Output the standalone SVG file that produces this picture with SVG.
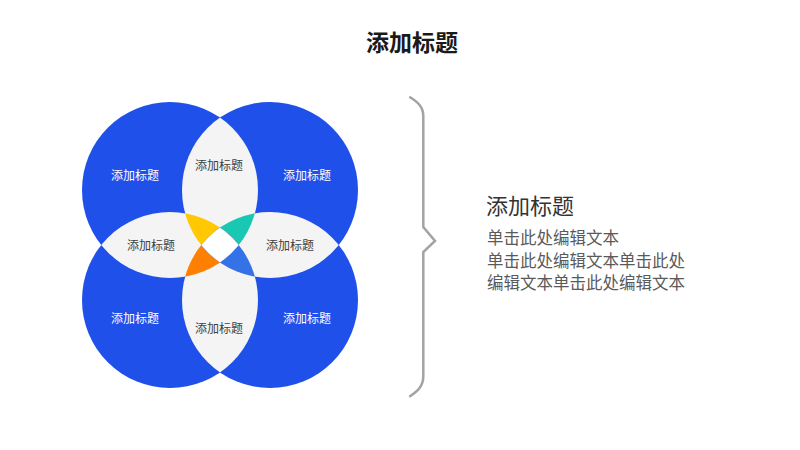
<svg xmlns="http://www.w3.org/2000/svg" width="800" height="450" viewBox="0 0 800 450">
<style>
.blue{fill:#1f50e9}
.grey{fill:#f4f4f4}
.t{font-family:"Noto Sans CJK SC","Noto Sans",sans-serif;text-anchor:middle;font-size:12px}
.tw{fill:#ffffff}
.td{fill:#404040}
.title{font-family:"Noto Sans CJK SC","Noto Sans",sans-serif;font-size:23px;font-weight:bold;fill:#1a1a1a;text-anchor:middle}
.h{font-family:"Noto Sans CJK SC","Noto Sans",sans-serif;font-size:22px;fill:#333333}
.b{font-family:"Noto Sans CJK SC","Noto Sans",sans-serif;font-size:16.5px;fill:#5a5a5a}
.brace{fill:none;stroke:#a3a3a3;stroke-width:2.5;stroke-linejoin:miter}
</style>
<defs>
<clipPath id="cTL"><circle cx="170" cy="190" r="88"/></clipPath>
<clipPath id="cTR"><circle cx="270" cy="190" r="88"/></clipPath>
<clipPath id="cBL"><circle cx="170" cy="300" r="88"/></clipPath>
<clipPath id="cBR"><circle cx="270" cy="300" r="88"/></clipPath>
</defs>
<rect width="800" height="450" fill="#ffffff"/>
<text class="title" x="412" y="51">添加标题</text>

<g id="circle-tl"><circle class="blue" cx="170" cy="190" r="88"/><text class="t tw" x="135" y="179.5">添加标题</text></g>
<g id="circle-tr"><circle class="blue" cx="270" cy="190" r="88"/><text class="t tw" x="307" y="179.5">添加标题</text></g>
<g id="circle-bl"><circle class="blue" cx="170" cy="300" r="88"/><text class="t tw" x="135" y="322.5">添加标题</text></g>
<g id="circle-br"><circle class="blue" cx="270" cy="300" r="88"/><text class="t tw" x="307" y="322.5">添加标题</text></g>

<g id="lens-top"><g clip-path="url(#cTL)"><circle class="grey" cx="270" cy="190" r="88"/></g><text class="t td" x="219" y="169.5">添加标题</text></g>
<g id="lens-left"><g clip-path="url(#cTL)"><circle class="grey" cx="170" cy="300" r="88"/></g><text class="t td" x="151" y="249.5">添加标题</text></g>
<g id="lens-right"><g clip-path="url(#cTR)"><circle class="grey" cx="270" cy="300" r="88"/></g><text class="t td" x="290" y="249.5">添加标题</text></g>
<g id="lens-bottom"><g clip-path="url(#cBL)"><circle class="grey" cx="270" cy="300" r="88"/></g><text class="t td" x="219" y="332.5">添加标题</text></g>

<g id="core-yellow"><g clip-path="url(#cTL)"><g clip-path="url(#cTR)"><circle fill="#ffc800" cx="170" cy="300" r="88"/></g></g></g>
<g id="core-teal"><g clip-path="url(#cTL)"><g clip-path="url(#cTR)"><circle fill="#19c8b2" cx="270" cy="300" r="88"/></g></g></g>
<g id="core-orange"><g clip-path="url(#cTL)"><g clip-path="url(#cBL)"><circle fill="#ff7f00" cx="270" cy="300" r="88"/></g></g></g>
<g id="core-blue"><g clip-path="url(#cTR)"><g clip-path="url(#cBR)"><circle fill="#3572e8" cx="170" cy="300" r="88"/></g></g></g>
<g id="core-center"><g clip-path="url(#cTL)"><g clip-path="url(#cTR)"><g clip-path="url(#cBL)"><circle fill="#ffffff" cx="270" cy="300" r="88"/></g></g></g></g>

<g id="connectors">
<path class="brace" d="M409.3,96.7 C418,102 423.3,107 423.3,116 L423.3,227 L435,241 L423.3,252 L423.3,376 C423.3,386 418,391 409.3,396.7"/>
</g>

<g id="text-block">
<text class="h" x="486" y="214">添加标题</text>
<text class="b" x="487" y="244">单击此处编辑文本</text>
<text class="b" x="487" y="267">单击此处编辑文本单击此处</text>
<text class="b" x="487" y="289">编辑文本单击此处编辑文本</text>
</g>
</svg>
